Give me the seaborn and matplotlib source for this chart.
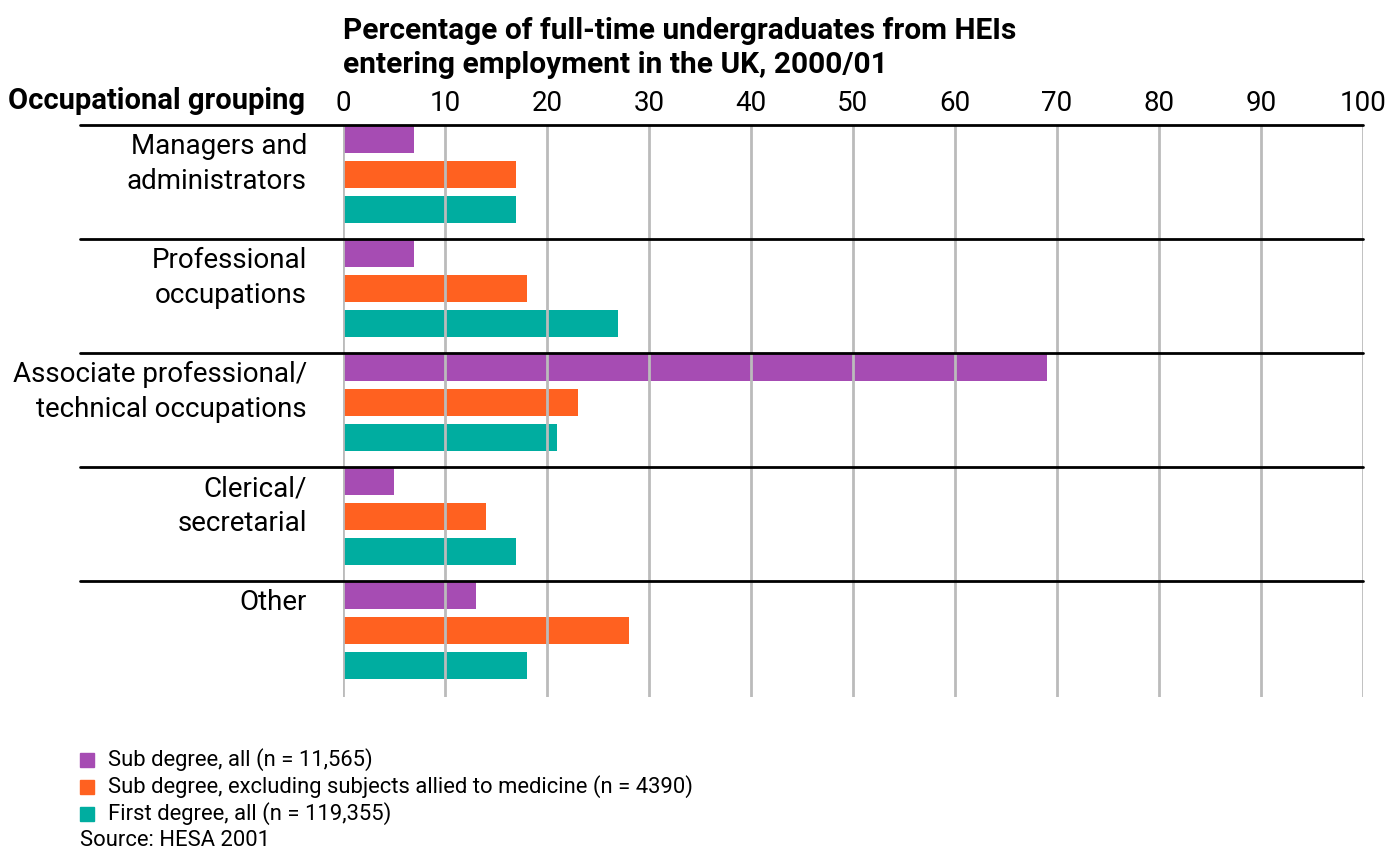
import matplotlib
matplotlib.use("Agg")
import matplotlib.pyplot as plt
import matplotlib.transforms as mtransforms
import numpy as np
import pandas as pd
import seaborn as sns

# Occupational groupings and the share (%) of graduates entering each
categories = [
    "Managers and\nadministrators",
    "Professional\noccupations",
    "Associate professional/\ntechnical occupations",
    "Clerical/\nsecretarial",
    "Other",
]
sub_degree_all = [7, 7, 69, 5, 13]
sub_degree_excl_medicine = [17, 18, 23, 14, 28]
first_degree_all = [17, 27, 21, 17, 18]

series_names = [
    "Sub degree, all (n = 11,565)",
    "Sub degree, excluding subjects allied to medicine (n = 4390)",
    "First degree, all (n = 119,355)",
]
series_colors = ["#A64CB3", "#FF6120", "#00ADA0"]
x_ticks = list(range(0, 101, 10))

title_text = "Percentage of full-time undergraduates from HEIs\nentering employment in the UK, 2000/01"
axis_heading = "Occupational grouping"
source_text = "Source: HESA 2001"

sns.set_theme(style="white")
plt.rcParams["font.family"] = ["Roboto", "DejaVu Sans"]

df = pd.DataFrame({
    "category": np.repeat(categories, 3),
    "series": series_names * len(categories),
    "value": np.ravel(np.column_stack([sub_degree_all, sub_degree_excl_medicine, first_degree_all])),
})

fig = plt.figure(figsize=(13.91, 8.5), dpi=100)
ax = fig.add_axes([343 / 1391, 1 - 697 / 850, 1020 / 1391, (697 - 125) / 850])

sns.barplot(
    data=df, y="category", x="value", hue="series", order=categories,
    hue_order=series_names, palette=series_colors, orient="h",
    width=0.92, gap=0.23, saturation=1, linewidth=0, ax=ax, legend=False, zorder=2,
)

ax.set_xlim(0, 100)
ax.set_ylim(len(categories) - 1 + 0.583, -0.434)
ax.set_xticks(x_ticks)
ax.xaxis.tick_top()
ax.tick_params(axis="x", length=0, labelsize=20, pad=6, labelcolor="black")
ax.set_yticks([])
ax.set_xlabel("")
ax.set_ylabel("")
for spine in ax.spines.values():
    spine.set_visible(False)

# Vertical gridlines, drawn over the bars
for t in x_ticks:
    ax.axvline(t, color="#bbbbbb", lw=2, zorder=3)

# Group separators and category labels
trans = mtransforms.blended_transform_factory(ax.transAxes, ax.transData)
for i, cat in enumerate(categories):
    ysep = i - 0.434
    ax.plot([-0.258, 1.0], [ysep, ysep], transform=trans, color="black",
            lw=2, clip_on=False, zorder=4)
    ax.text(-0.0353, ysep + 0.07, cat, transform=trans, ha="right", va="top",
            fontsize=20, linespacing=1.4, color="black")

# Heading to the left of the tick labels
fig.text(305 / 1391, 1 - 101 / 850, axis_heading, ha="right", va="center",
         fontsize=21, fontweight="bold", color="black")

# Title
fig.text(343 / 1391, 1 - 48 / 850, title_text, ha="left", va="center",
         fontsize=21.5, fontweight="bold", linespacing=1.3, color="black")

# Legend with square markers and source note
legend_y = [760, 787, 814]
for name, color, y in zip(series_names, series_colors, legend_y):
    fig.patches.append(plt.Rectangle((80 / 1391, 1 - (y + 7) / 850), 14 / 1391, 14 / 850,
                                     transform=fig.transFigure, color=color))
    fig.text(108 / 1391, 1 - y / 850, name, ha="left", va="center",
             fontsize=15.8, color="black")
fig.text(80 / 1391, 1 - 841 / 850, source_text, ha="left", va="center",
         fontsize=15.8, color="black")

fig.savefig("out.png", dpi=100)
